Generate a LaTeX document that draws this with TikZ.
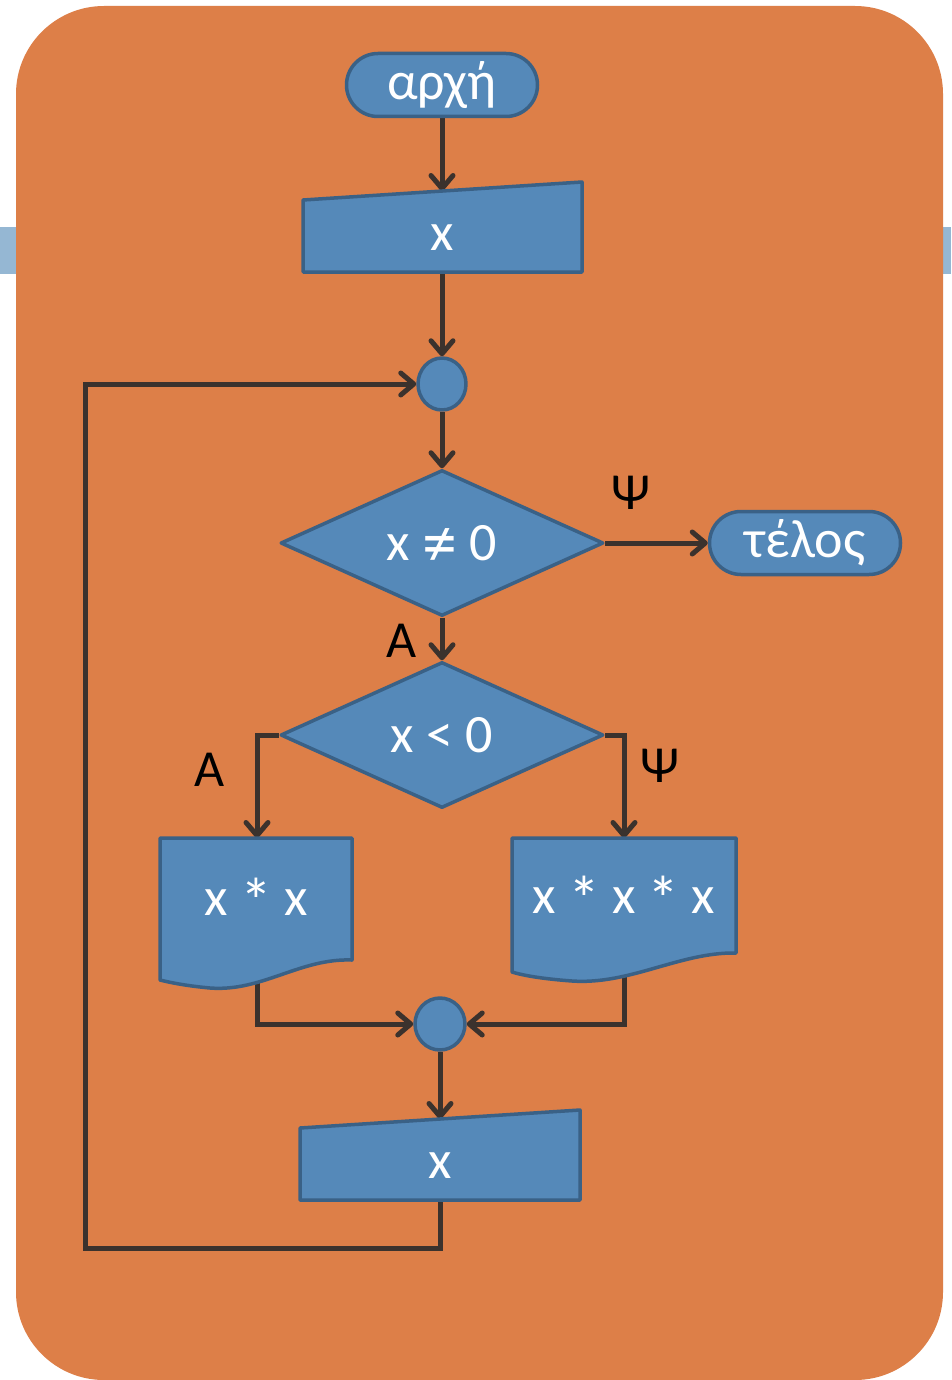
\documentclass[tikz,border=0pt]{standalone}
\usepackage{fontspec}
\setmainfont{Carlito}
\usetikzlibrary{shapes.geometric,shapes.misc,arrows.meta}
\definecolor{orangebg}{HTML}{DD7F48}
\definecolor{barblue}{HTML}{95B7D3}
\definecolor{shapefill}{HTML}{5589B9}
\definecolor{shapeline}{HTML}{3A6186}
\definecolor{linecol}{HTML}{3B322D}
\newcommand{\bigstar}{\raisebox{-8pt}[0pt][0pt]{\fontsize{64}{60}\selectfont *}}
\newcommand{\neqsym}{\raisebox{-6pt}[0pt][0pt]{\fontsize{70}{60}\selectfont ≠}}
\pgfdeclarelayer{bg}\pgfdeclarelayer{lines}\pgfsetlayers{bg,lines,main}
\begin{document}
\begin{tikzpicture}[x=1pt,y=-1pt,
  fc/.style={fill=shapefill,draw=shapeline,line width=3.5pt,line join=round},
  bigtxt/.style={text=white,font=\fontsize{54}{60}\selectfont,inner sep=0pt},
  term/.style={fc,bigtxt,rounded rectangle,minimum width=191pt,minimum height=63pt},
  decis/.style={fc,bigtxt,diamond,minimum width=323pt,minimum height=146pt},
  joint/.style={fc,ellipse,minimum width=48pt,minimum height=52pt,inner sep=0pt},
  lbl/.style={text=black,font=\fontsize{52}{60}\selectfont,inner sep=0pt},
  conn/.style={draw=linecol,line width=5pt,-{Straight Barb[round,length=13pt,width=22pt]}}]
\useasboundingbox (0,0) rectangle (951,1380);
\begin{pgfonlayer}{bg}
  \fill[white] (0,0) rectangle (951,1380);
  \fill[barblue] (0,227) rectangle (951,274);
  \fill[orangebg,rounded corners=88pt] (16,6) rectangle (943,1380);
\end{pgfonlayer}

% terminals
\node[term] (start) at (442,85) {αρχή};
\node[term] (end) at (805,543) {τέλος};

% input 1
\path[fc] (303,200) -- (582,182) -- (582,272) -- (303,272) -- cycle;
\node[bigtxt] (in1) at (442,238) {x};
\coordinate (in1top) at (442,191);
\coordinate (in1bot) at (442,272);

% joint 1
\node[joint] (c1) at (442,384) {};

% decisions
\node[decis] (dia1) at (442,543) {x \neqsym{} 0};
\node[decis] (dia2) at (442,735) {x < 0};

% documents
\path[fc] (160,838) -- (352,838) -- (352,960) .. controls (300,958) and (262,992) .. (210,988) .. controls (188,986) and (172,983) .. (160,980) -- cycle;
\node[bigtxt] (d1) at (256,903) {x \bigstar{} x};
\coordinate (d1top) at (257,838);
\coordinate (d1bot) at (257,978);
\path[fc] (512,838) -- (736,838) -- (736,953) .. controls (680,952) and (630,985) .. (572,981) .. controls (545,979) and (525,976) .. (512,972) -- cycle;
\node[bigtxt] (d2) at (624,901) {x \bigstar{} x \bigstar{} x};
\coordinate (d2top) at (624,838);
\coordinate (d2bot) at (624,970);

% joint 2
\node[joint,minimum width=50pt] (c2) at (440,1024) {};

% input 2
\path[fc] (300,1128) -- (580,1110) -- (580,1200) -- (300,1200) -- cycle;
\node[bigtxt] (in2) at (440,1166) {x};
\coordinate (in2top) at (440,1119);
\coordinate (in2bot) at (440,1200);
\coordinate (loopcorner) at (85,1248);

% labels
\node[lbl] (l1) at (631,493) {Ψ};
\node[lbl] (l2) at (402,641) {Α};
\node[lbl] (l3) at (210,770) {Α};
\node[lbl] (l4) at (660,766) {Ψ};

\begin{pgfonlayer}{lines}
  \draw[conn] (start.south) -- (in1top);
  \draw[conn] (in1bot) -- (c1.north);
  \draw[conn] (c1.south) -- (dia1.north);
  \draw[conn] (dia1.east) -- (end.west);
  \draw[conn] (dia1.south) -- (dia2.north);
  \draw[conn] (dia2.west) -| (d1top);
  \draw[conn] (dia2.east) -| (d2top);
  \draw[conn] (d1bot) |- (c2.west);
  \draw[conn] (d2bot) |- (c2.east);
  \draw[conn] (c2.south) -- (in2top);
  \draw[conn] (in2bot) |- (loopcorner) |- (c1.west);
\end{pgfonlayer}
\end{tikzpicture}
\end{document}
